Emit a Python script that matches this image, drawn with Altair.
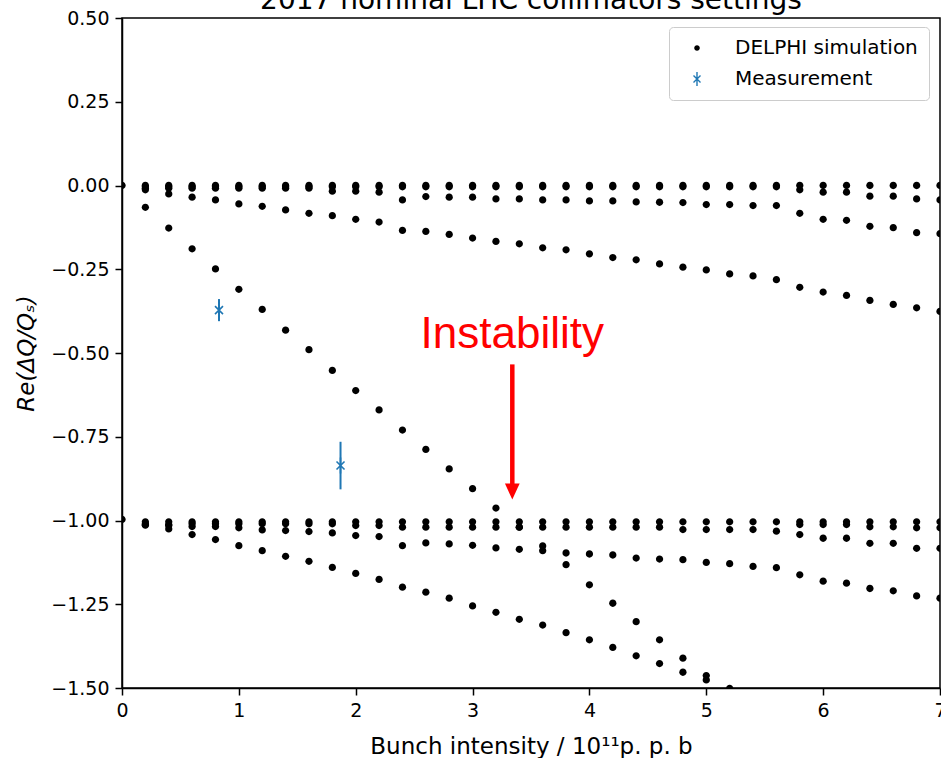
import altair as alt
import pandas as pd

N = None

# Bunch intensity grid of the DELPHI scan (1e11 p.p.b)
X = [0.0, 0.2, 0.4, 0.6, 0.8, 1.0, 1.2, 1.4, 1.6, 1.8, 2.0, 2.2, 2.4, 2.6, 2.8, 3.0, 3.2, 3.4,
     3.6, 3.8, 4.0, 4.2, 4.4, 4.6, 4.8, 5.0, 5.2, 5.4, 5.6, 5.8, 6.0, 6.2, 6.4, 6.6, 6.8, 7.0]

# Re(dQ/Qs) of the simulated modes, one list per branch (None = no point)
UP_A = [0.0, 0.0, 0.0, 0.0, 0.0, 0.0, 0.0, 0.0, 0.0, 0.0, 0.0, 0.0, 0.0, 0.0, 0.0, 0.0, 0.0, 0.0,
        0.0, 0.0, 0.0, 0.0, 0.0, 0.0, 0.0, 0.0, 0.0, 0.0, 0.0, 0.0, 0.0, 0.0, 0.0, 0.0, 0.0, 0.0]
UP_D = [N, -0.004, -0.004, -0.004, -0.004, -0.004, -0.004, -0.004, -0.004, -0.004, -0.004, -0.004,
        -0.004, -0.004, -0.004, -0.004, -0.004, -0.004, -0.004, -0.004, -0.004, -0.004, -0.004,
        -0.004, -0.004, -0.004, -0.004, -0.004, -0.004, -0.013, -0.020, -0.020, -0.032, -0.032,
        -0.040, -0.043]
UP_C = [N, -0.008, -0.008, -0.008, -0.008, -0.008, -0.008, -0.008, -0.008, -0.017, -0.017, -0.020,
        -0.043, -0.033, -0.035, -0.035, -0.040, -0.040, -0.043, -0.043, -0.046, -0.046, -0.049,
        -0.050, -0.051, -0.057, -0.057, -0.060, -0.060, -0.083, -0.101, -0.104, -0.122, -0.126,
        -0.141, -0.144]
UP_B = [N, -0.013, -0.025, -0.035, -0.043, -0.055, -0.062, -0.073, -0.083, -0.090, -0.101, -0.109,
        -0.134, -0.137, -0.146, -0.157, -0.167, -0.174, -0.186, -0.192, -0.204, -0.215, -0.222,
        -0.234, -0.244, -0.252, -0.264, -0.270, -0.281, -0.304, -0.318, -0.328, -0.343, -0.355,
        -0.365, -0.376]
UP_E = [N, -0.065, -0.127, -0.189, -0.249, -0.310, -0.370, -0.432, -0.490, -0.552, -0.612, -0.670,
        -0.730, -0.788, -0.846, -0.905, -0.963, -1.020, -1.076, -1.132, -1.192, -1.247, -1.302,
        -1.356, -1.411, -1.463, N, N, N, N, N, N, N, N, N, N]
LO_A = [-0.997, -1.004, -1.004, -1.004, -1.004, -1.004, -1.004, -1.004, -1.004, -1.004, -1.004,
        -1.004, -1.004, -1.004, -1.004, -1.004, -1.004, -1.004, -1.004, -1.004, -1.004, -1.004,
        -1.004, -1.004, -1.004, -1.004, -1.004, -1.004, -1.004, -1.004, -1.004, -1.004, -1.004,
        -1.004, -1.004, -1.004]
LO_C = [N, -1.012, -1.012, -1.010, -1.010, -1.010, -1.010, -1.010, -1.010, -1.010, -1.015, -1.015,
        -1.020, -1.020, -1.020, -1.020, -1.020, -1.020, -1.020, -1.020, -1.020, -1.020, -1.020,
        -1.020, -1.027, -1.027, -1.027, -1.027, -1.032, -1.042, -1.053, -1.053, -1.068, -1.068,
        -1.083, -1.083]
LO_B = [N, -1.010, -1.015, -1.018, -1.018, -1.022, -1.028, -1.030, -1.033, -1.037, -1.045, -1.048,
        -1.075, -1.067, -1.070, -1.074, -1.082, -1.086, -1.090, -1.097, -1.100, -1.103, -1.112,
        -1.115, -1.117, -1.125, -1.129, -1.137, -1.141, -1.162, -1.181, -1.187, -1.203, -1.210,
        -1.225, -1.232]
LO_E = [N, -1.014, -1.025, -1.042, -1.057, -1.075, -1.090, -1.107, -1.122, -1.140, -1.158, -1.176,
        -1.199, -1.214, -1.232, -1.255, -1.274, -1.295, -1.312, -1.335, -1.356, -1.379, -1.404,
        -1.427, -1.453, -1.476, -1.501, N, N, N, N, N, N, N, N, N]
LO_D = [N, N, N, N, N, N, N, N, N, N, N, N, N, N, N, N, N, N, N, N, N, N, N, N, N, N, N, N, N,
        -1.012, -1.012, -1.012, -1.019, -1.019, -1.022, -1.022]

# Measurements
MEAS_X = [0.83, 1.87]
MEAS_Y = [-0.372, -0.836]
MEAS_ERR = [0.033, 0.071]

SERIES = ["DELPHI simulation", "Measurement"]
X_TICKS = [0, 1, 2, 3, 4, 5, 6, 7]
Y_TICKS = [-1.5, -1.25, -1.0, -0.75, -0.5, -0.25, 0.0, 0.25, 0.5]

TITLE = "2017 nominal LHC collimators settings"
ANNOT_TEXT = "Instability"
ANNOT_X = [3.34]
ANNOT_TEXT_Y = [-0.4836]
ARROW_TOP = [-0.534]
ARROW_BASE = [-0.892]
ARROW_HEAD = [-0.9134]

BLUE = "#1f77b4"
DOT_PATH = "M-0.4,0A0.4,0.4,0,1,1,0.4,0A0.4,0.4,0,1,1,-0.4,0Z"
# 'x' marker with a vertical error-bar stroke, built from filled thin polygons
XBAR_PATH = ("M-0.1,-1L0.1,-1L0.1,1L-0.1,1Z"
             "M-0.43,-0.57L0.57,0.43L0.43,0.57L-0.57,-0.43Z"
             "M-0.57,0.43L0.43,-0.57L0.57,-0.43L-0.43,0.57Z")
HEAD_PATH = "M-0.92,-1L0.92,-1L0,1Z"

rows = []
for ys in [UP_A, UP_D, UP_C, UP_B, UP_E, LO_A, LO_C, LO_B, LO_E, LO_D]:
    for xv, yv in zip(X, ys):
        if yv is not None:
            rows.append({"x": xv, "y": yv, "series": SERIES[0]})
sim = pd.DataFrame(rows)

meas = pd.DataFrame({"x": MEAS_X, "y": MEAS_Y, "err": MEAS_ERR})
meas["series"] = SERIES[1]
meas["lo"] = meas["y"] - meas["err"]
meas["hi"] = meas["y"] + meas["err"]

ann = pd.DataFrame({"x": ANNOT_X, "y": ANNOT_TEXT_Y, "label": [ANNOT_TEXT]})
arrow = pd.DataFrame({"x": ANNOT_X, "y": ARROW_TOP, "y2": ARROW_BASE})
head = pd.DataFrame({"x": ANNOT_X, "y": ARROW_HEAD})
ttl = pd.DataFrame({"t": [TITLE]})

xs = alt.Scale(domain=[0, 7], nice=False, zero=False)
ysc = alt.Scale(domain=[-1.5, 0.5], nice=False, zero=False)
color_scale = alt.Scale(domain=SERIES, range=["black", BLUE])
shape_scale = alt.Scale(domain=SERIES, range=[DOT_PATH, XBAR_PATH])

x_axis = alt.Axis(values=X_TICKS, format="d", title="Bunch intensity / 10¹¹p. p. b",
                  titleBaseline="alphabetic", titleY=65)
y_axis = alt.Axis(values=Y_TICKS, format=".2f", title="Re(ΔQ/Qₛ)", titleFontStyle="italic",
                  titleAngle=270, titleX=-89, titleY=335, titleBaseline="alphabetic",
                  titleAlign="center")

leg = alt.Legend(
    title=None, orient="none", legendX=547, legendY=9,
    fillColor="white", strokeColor="#cccccc", cornerRadius=4, padding=11,
    labelFont="DejaVu Sans", labelFontSize=20, labelColor="black", labelLimit=0,
    symbolSize=196, symbolOffset=7, labelOffset=28, rowPadding=11,
)

X_ENC = alt.X("x:Q", scale=xs, axis=x_axis)
Y_ENC = alt.Y("y:Q", scale=ysc, axis=y_axis)
C_ENC = alt.Color("series:N", scale=color_scale, legend=leg)
S_ENC = alt.Shape("series:N", scale=shape_scale, legend=leg)

sim_layer = alt.Chart(sim).mark_point(filled=True, size=330, opacity=1, clip=True).encode(
    x=X_ENC, y=Y_ENC, color=C_ENC, shape=S_ENC)

err_layer = alt.Chart(meas).mark_rule(color=BLUE, strokeWidth=2, clip=True).encode(
    x=X_ENC, y=alt.Y("lo:Q", scale=ysc, axis=y_axis), y2="hi:Q")

meas_layer = alt.Chart(meas).mark_point(filled=True, size=256, opacity=1, clip=True).encode(
    x=X_ENC, y=Y_ENC, color=C_ENC, shape=S_ENC)

text_layer = alt.Chart(ann).mark_text(color="#ff0000", font="Liberation Sans", fontSize=44,
                                      align="center", baseline="alphabetic").encode(
    x=X_ENC, y=Y_ENC, text="label:N")

arrow_layer = alt.Chart(arrow).mark_rule(color="#ff0000", strokeWidth=4.5).encode(
    x=X_ENC, y=Y_ENC, y2="y2:Q")

head_layer = alt.Chart(head).mark_point(shape=HEAD_PATH, filled=True, size=256, color="#ff0000",
                                        opacity=1).encode(x=X_ENC, y=Y_ENC)

title_layer = alt.Chart(ttl).mark_text(font="DejaVu Sans", fontSize=28, color="black",
                                       align="center", baseline="alphabetic").encode(
    x=alt.value(409), y=alt.value(-9), text="t:N")

chart = alt.layer(
    sim_layer, err_layer, meas_layer, text_layer, arrow_layer, head_layer, title_layer
).properties(
    width=818, height=670,
    padding={"left": 122, "top": 18, "right": 1, "bottom": 70},
    autosize=alt.AutoSizeParams(type="none"),
    background="white",
).configure_view(
    stroke="black", strokeWidth=1.5
).configure_axis(
    grid=False, domainColor="black", domainWidth=1.5, tickColor="black", tickWidth=1.5,
    tickSize=7, labelPadding=6, labelFont="DejaVu Sans", labelFontSize=19, labelColor="black",
    labelFlush=False, labelOverlap=False,
    titleFont="DejaVu Sans", titleFontSize=23, titleFontWeight="normal", titleColor="black",
)

chart.save("out.html", embed_options={"renderer": "svg", "actions": False})
